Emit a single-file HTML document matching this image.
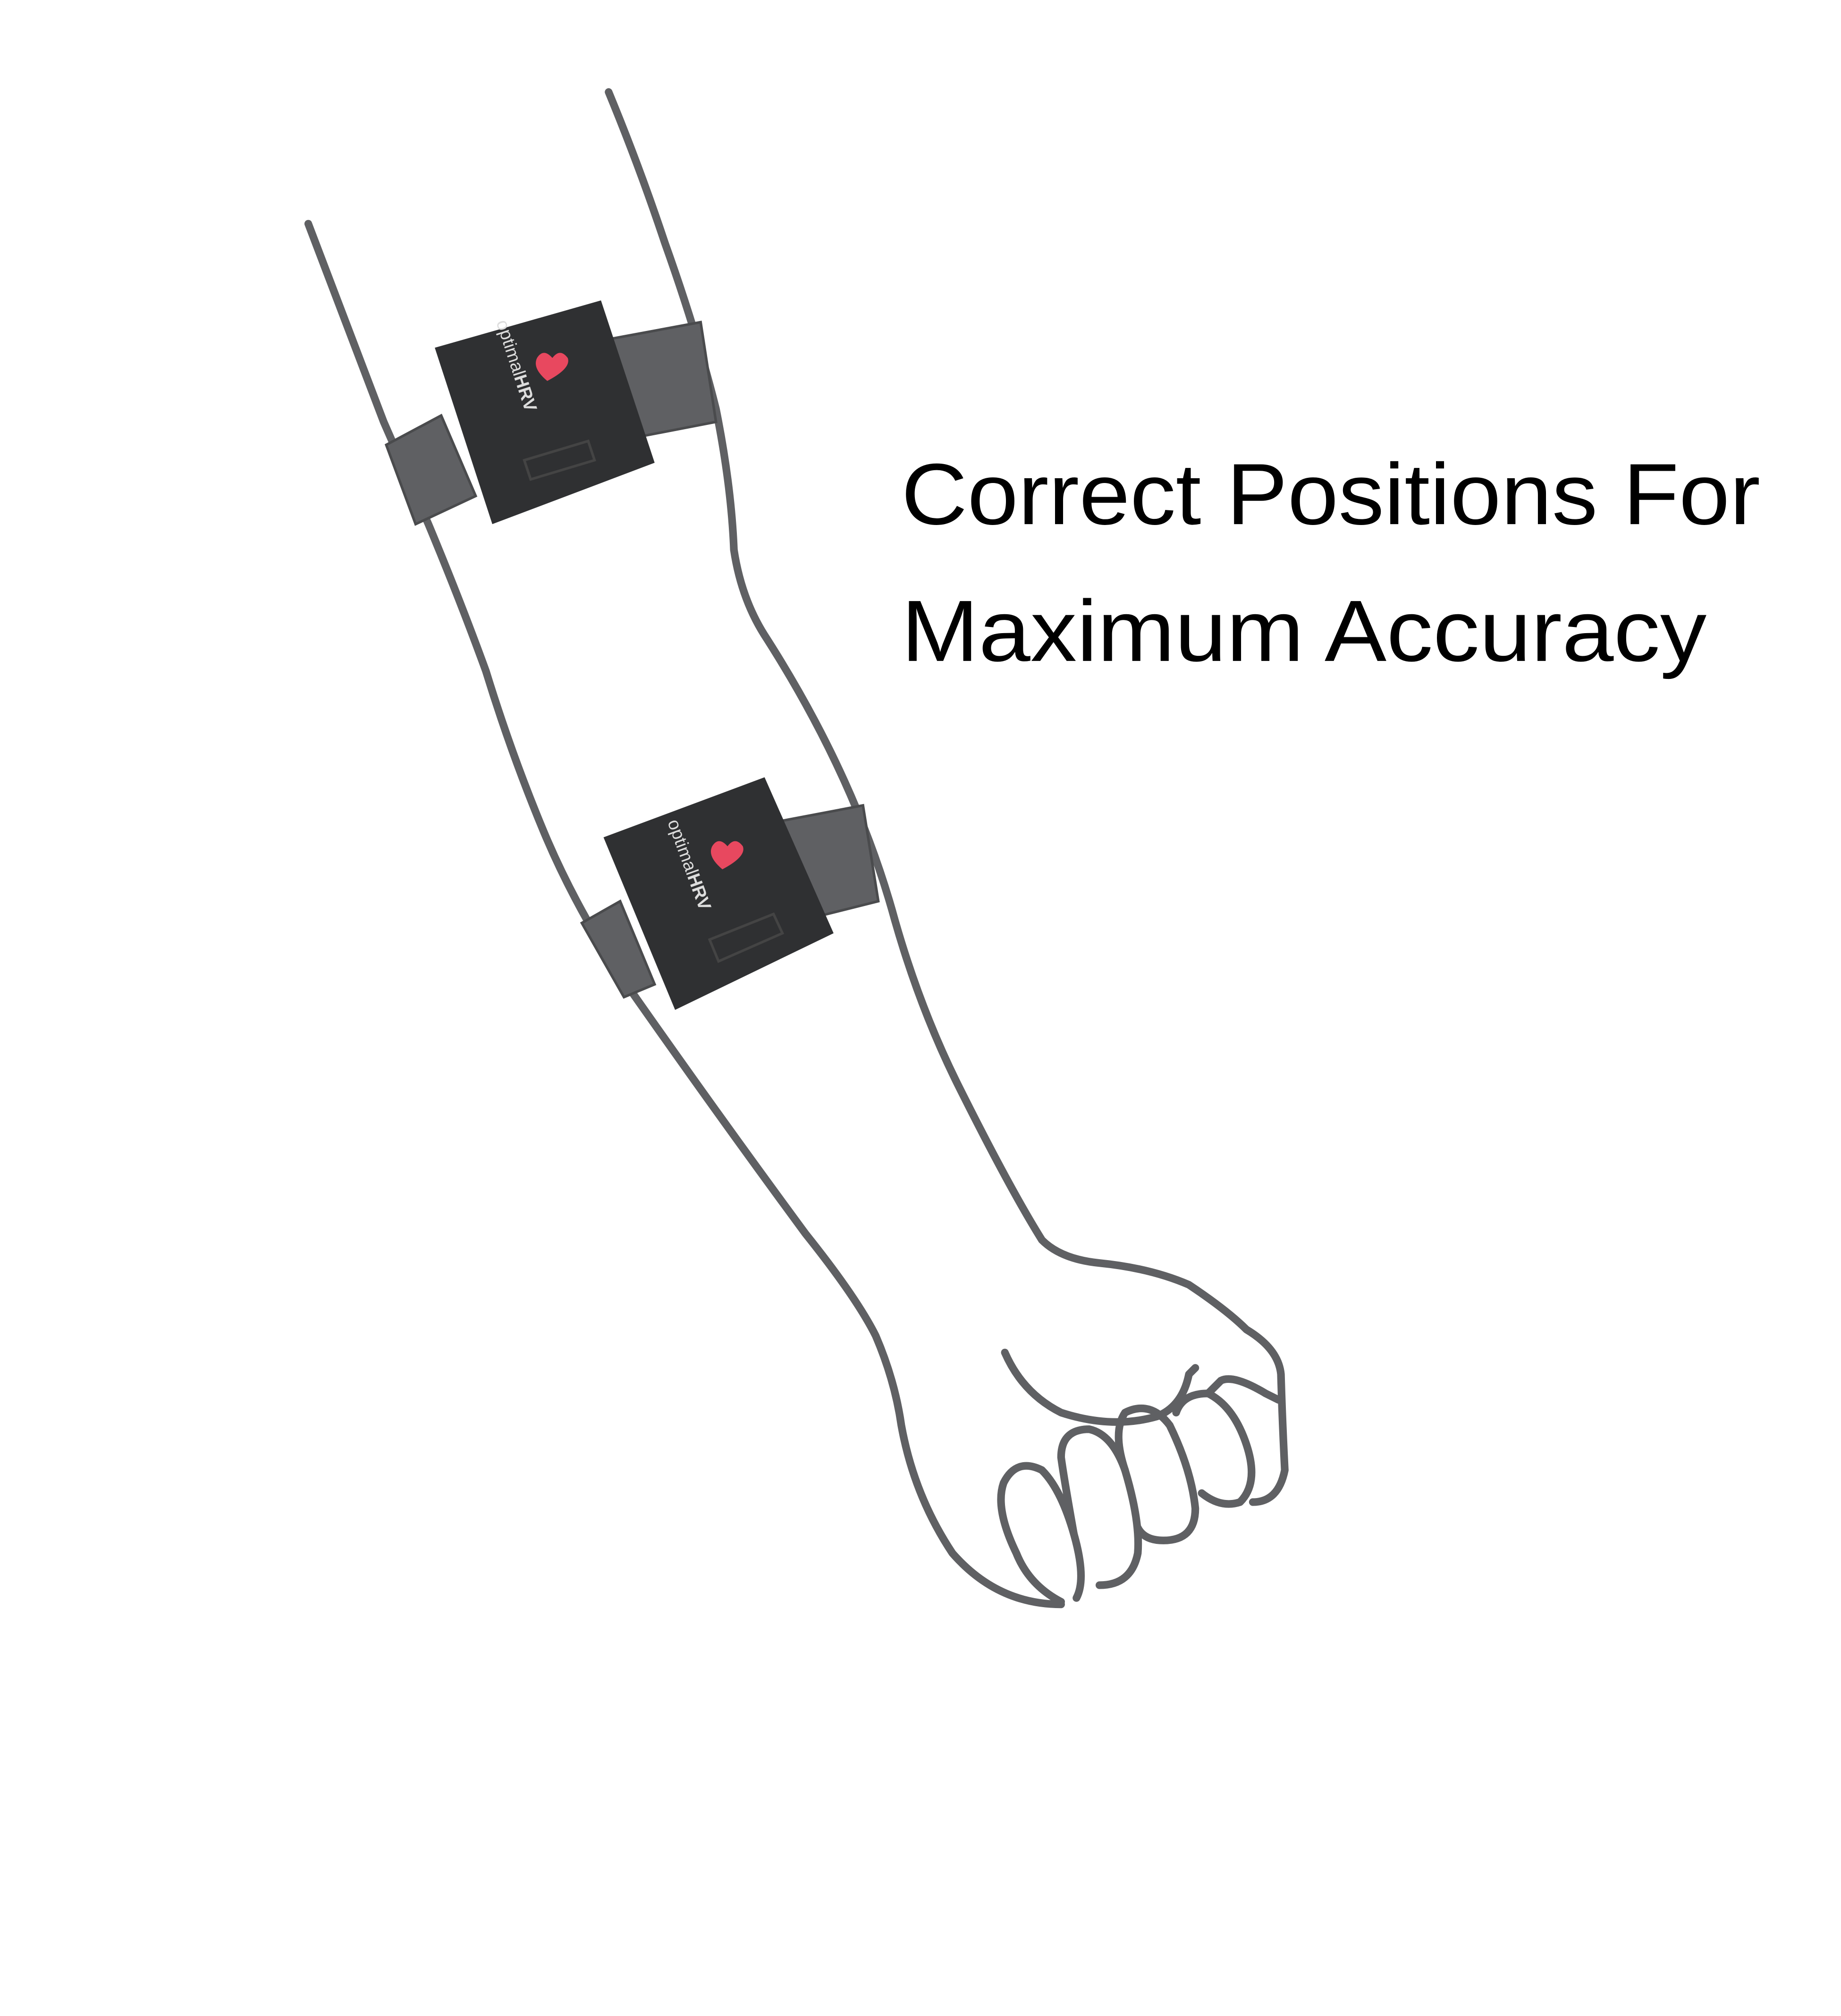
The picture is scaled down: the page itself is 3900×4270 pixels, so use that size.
<!DOCTYPE html>
<html>
<head>
<meta charset="utf-8">
<style>
html,body{margin:0;padding:0;background:#fff;}
svg{display:block;}
</style>
</head>
<body>
<svg width="3900" height="4270" viewBox="0 0 1440 1577" xmlns="http://www.w3.org/2000/svg">
  <rect width="1440" height="1577" fill="#fff"/>
  <g fill="none" stroke="#5f6063" stroke-width="6" stroke-linecap="round" stroke-linejoin="round">
    <path d="M241,175 L300,330 L335,410 Q360,470 380,525 Q400,590 425,650 Q450,710 490,770 Q560,870 630,965 Q670,1015 685,1045 Q700,1080 705,1115 Q715,1170 745,1215 Q780,1255 830,1255"/>
    <path d="M476,72 Q500,130 520,190 Q545,260 560,320 Q572,380 574,430 Q580,470 600,500 Q635,555 660,610 Q685,665 700,720 Q720,790 750,850 Q790,930 815,970 Q830,985 860,988 Q900,992 930,1005 Q960,1025 975,1040 Q1000,1055 1002,1075 Q1003,1110 1005,1150 Q1000,1175 980,1175"/>
    <path d="M786,1058 Q800,1090 830,1105 Q870,1118 905,1108 Q925,1100 930,1075 L935,1070"/>
    <path d="M830,1253 Q805,1240 795,1215 Q778,1180 785,1160 Q795,1140 815,1150 Q830,1165 840,1200 Q850,1235 842,1250"/>
    <path d="M840,1200 Q832,1155 830,1140 Q830,1118 852,1118 Q870,1122 880,1150 Q892,1190 890,1215 Q885,1240 860,1240"/>
    <path d="M880,1150 Q870,1120 880,1105 Q900,1095 915,1115 Q932,1150 935,1180 Q935,1205 910,1205 Q895,1205 890,1195"/>
    <path d="M920,1105 Q925,1090 945,1090 Q965,1100 975,1130 Q985,1160 970,1175 Q955,1180 940,1168"/>
    <path d="M945,1090 L955,1080 Q965,1075 990,1090 L1000,1095"/>
  </g>

  <g>
    <polygon points="302,348 345,325 372,388 325,410" fill="#5f6063" stroke="#4a4b4d" stroke-width="2"/>
    <polygon points="478,265 548,252 560,330 498,342" fill="#5f6063" stroke="#4a4b4d" stroke-width="2"/>
    <polygon points="340,272 470,235 512,362 385,410" fill="#2f3032"/>
    <polygon points="410,360 460,345 465,360 415,375" fill="none" stroke="#444" stroke-width="2"/>
    <g transform="translate(388,252) rotate(72)">
      <text x="0" y="0" font-family="Liberation Sans, sans-serif" font-size="14" fill="#ddd">optimal<tspan font-weight="bold">HRV</tspan></text>
    </g>
    <path d="M428,298 q-12,-10 -8,-18 q5,-8 12,0 q6,-8 12,0 q3,8 -16,18z" fill="#e8485f"/>
  </g>

  <g>
    <polygon points="455,722 485,705 512,770 488,780" fill="#5f6063" stroke="#4a4b4d" stroke-width="2"/>
    <polygon points="612,642 675,630 687,705 635,718" fill="#5f6063" stroke="#4a4b4d" stroke-width="2"/>
    <polygon points="472,655 598,608 652,730 528,790" fill="#2f3032"/>
    <polygon points="555,735 605,715 612,730 562,752" fill="none" stroke="#444" stroke-width="2"/>
    <g transform="translate(522,643) rotate(70)">
      <text x="0" y="0" font-family="Liberation Sans, sans-serif" font-size="14" fill="#ddd">optimal<tspan font-weight="bold">HRV</tspan></text>
    </g>
    <path d="M565,680 q-12,-10 -8,-18 q5,-8 12,0 q6,-8 12,0 q3,8 -16,18z" fill="#e8485f"/>
  </g>

  <text x="705" y="410" font-family="Liberation Sans, sans-serif" font-size="68" fill="#000" textLength="672" lengthAdjust="spacingAndGlyphs">Correct Positions For</text>
  <text x="705" y="517" font-family="Liberation Sans, sans-serif" font-size="68" fill="#000" textLength="630" lengthAdjust="spacingAndGlyphs">Maximum Accuracy</text>
</svg>
</body>
</html>
